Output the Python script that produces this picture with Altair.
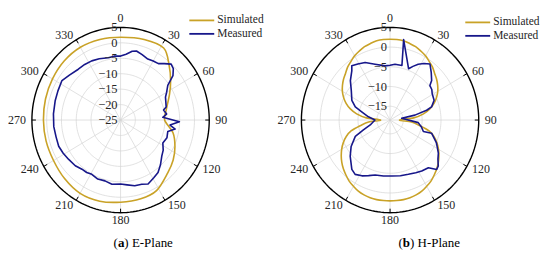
import math
import altair as alt
import pandas as pd

# ---------------- data ----------------
THETA_TICKS = [0, 30, 60, 90, 120, 150, 180, 210, 240, 270, 300, 330]
SERIES = ["Simulated", "Measured"]
COLORS = ["#C9A227", "#17178A"]

# E-plane (radial axis -25 .. 5 dB)
E_RMIN, E_RMAX = -25, 5
E_R_TICKS = [5, 0, -5, -10, -15, -20, -25]
E_SIM_ANG = [0, 17, 32, 43, 53, 63, 78, 90, 103, 115, 126, 137, 152, 165, 180,
             195, 210, 225, 240, 255, 270, 285, 300, 315, 330, 345]
E_SIM_DB = [1.8, 2.3, 2.5, -0.9, -3.8, -6.4, -9.2, -10.1, -6.8, -4.7, -3.0, -1.6, 0.9, 1.4, 1.6,
            2.2, 2.4, 1.8, 1.2, 1.1, 1.1, 1.3, 1.6, 2.0, 2.2, 2.0]
E_MEAS_ANG = [0, 5, 10, 13.5, 19, 25, 30, 35, 39, 43.4, 47, 51, 55, 60, 64, 69, 74.6, 77.4,
              82.9, 86.5, 91.6, 95.5, 99, 103, 110, 117.4, 124, 130, 137, 143.3, 149, 155.8,
              161, 167.3, 174, 180, 188, 195, 202, 209, 214, 219.4, 226, 234, 241, 247.9,
              256, 264.6, 275, 286, 294, 302.8, 310, 319, 326, 333, 340, 348.4, 354]
E_MEAS_DB = [-4.3, -3.6, -2.4, -2.0, -2.6, -3.2, -2.9, -2.7, -1.5, -0.1, -0.6, -2.2, -5.5, -7.0,
             -8.1, -8.6, -9.0, -10.1, -9.3, -10.7, -5.1, -8.2, -6.3, -8.6, -8.3, -8.9, -7.6,
             -6.8, -5.2, -3.8, -3.2, -2.3, -3.0, -3.2, -3.9, -4.3, -4.0, -4.6, -4.4, -4.9,
             -4.5, -4.4, -3.7, -3.3, -2.8, -2.4, -2.5, -2.3, -2.2, -2.0, -1.8, -1.4, -2.4,
             -3.2, -3.3, -3.5, -3.9, -4.4, -4.2]

# H-plane (radial axis -18.5 .. 5 dB)
H_RMIN, H_RMAX = -18.5, 5
H_R_TICKS = [5, 0, -5, -10, -15]
H_SIM_ANG = [0, 5, 10, 15, 20, 25, 30, 35, 40, 45, 50, 55, 60, 65, 70, 75, 80, 85, 90,
             95, 100, 105, 110, 115, 120, 125, 130, 135, 140, 145, 150, 155, 160, 165, 170, 175,
             180, 185, 190, 195, 200, 205, 210, 215, 220, 225, 230, 235, 240, 245, 250, 255,
             260, 265, 270, 275, 280, 285, 290, 295, 300, 305, 310, 315, 320, 325, 330, 335,
             340, 345, 350, 355]
H_SIM_DB = [2.0, 2.0, 1.9, 1.6, 1.3, 0.8, 0.3, -0.4, -1.0, -1.8, -2.4, -3.1, -3.9, -4.9, -6.1,
            -7.6, -9.5, -12.2, -16.0,
            -12.8, -10.6, -7.8, -6.1, -4.8, -3.7, -2.7, -1.8, -1.0, -0.3, 0.4, 0.9, 1.4, 1.7,
            1.9, 2.0, 2.0,
            2.0, 2.0, 2.0, 1.9, 1.7, 1.4, 0.9, 0.4, -0.3, -1.0, -1.8, -2.7, -3.7, -4.8, -6.1,
            -7.8, -10.6, -12.8,
            -16.0, -12.2, -9.5, -7.6, -6.1, -4.9, -3.9, -3.1, -2.4, -1.8, -1.0, -0.4, 0.3, 0.8,
            1.3, 1.6, 1.9, 2.0]
H_MEAS_ANG = [0, 5.3, 12.8, 10.0, 20.7, 24, 27.8, 32, 36.7, 42, 47.7, 50.4, 55, 59.2,
              66.8, 73.1, 75.6, 79.3, 82, 95, 102, 108.3, 106.9, 115.3, 123.2, 128, 132.4,
              135.4, 140, 147, 153, 160.6, 169, 178, 187, 195.8, 202, 207.8, 213.9, 219, 229,
              237, 245.8, 250.5, 256.7, 270, 278.2, 285.6, 289.9, 296.3, 306, 313.5, 321,
              323.6, 329, 335.6, 344.3, 354.5]
H_MEAS_DB = [-4.6, -4.3, -4.3, 2.2, -4.6, -3.6, -2.5, -1.6, -0.8, -2.2, -3.6, -4.8, -5.0,
             -5.5, -5.8, -7.0, -8.5, -11.8, -15.4, -11.0, -10.0, -9.2, -7.0, -4.9, -3.2, -2.4,
             -1.2, -0.9, -2.7, -3.1, -3.5, -3.9, -4.1, -4.3, -4.2, -4.0, -3.3, -2.5, -1.9,
             -2.4, -4.5, -6.2, -8.4, -11.0, -13.1, -14.5, -12.7, -10.7, -8.7, -7.2, -5.8,
             -4.0, -2.4, -1.4, -1.9, -2.5, -3.8, -4.7]

# ---------------- geometry (pixels) ----------------
RX, RY = 89.0, 93.0
TOP, PANEL_H = 8, 241
FONT = "Liberation Serif"
TXT = "#262626"


def panel(left, width, cx, cy, rmin, rmax, rticks, sim_ang, sim_db, meas_ang, meas_db,
          letter, name, leg_x, leg_y, cap_x):
    xs = alt.Scale(domain=[(left - cx) / RX, (left + width - cx) / RX], nice=False, zero=False)
    ys = alt.Scale(domain=[(cy - (TOP + PANEL_H)) / RY, (cy - TOP) / RY], nice=False, zero=False)
    span = rmax - rmin

    def XY():
        return dict(x=alt.X("x:Q", scale=xs, axis=None), y=alt.Y("y:Q", scale=ys, axis=None))

    # grid circles + outer circle
    rows = []
    levels = [(v - rmin) / span for v in rticks if rmin < v < rmax]
    for g, r in enumerate(levels):
        for k in range(181):
            a = 2 * math.pi * k / 180
            rows.append({"g": g, "i": k, "x": r * math.sin(a), "y": r * math.cos(a)})
    grid = alt.Chart(pd.DataFrame(rows)).mark_line(color="#d4d4d4", strokeWidth=0.7).encode(
        detail="g:N", order="i:Q", **XY())
    outer_rows = [{"i": k, "x": math.sin(2 * math.pi * k / 180), "y": math.cos(2 * math.pi * k / 180)}
                  for k in range(181)]
    outer = alt.Chart(pd.DataFrame(outer_rows)).mark_line(color="black", strokeWidth=1.4).encode(
        order="i:Q", **XY())

    # spokes and ticks
    th = pd.DataFrame({"t": THETA_TICKS})
    spokes = alt.Chart(th).transform_calculate(
        x="0", y="0",
        x2="sin(datum.t*PI/180)", y2="cos(datum.t*PI/180)"
    ).mark_rule(color="#d4d4d4", strokeWidth=0.7).encode(
        x=alt.X("x:Q", scale=xs, axis=None), y=alt.Y("y:Q", scale=ys, axis=None),
        x2="x2:Q", y2="y2:Q")
    ticks = alt.Chart(th).transform_calculate(
        x=f"(1-4/{RX})*sin(datum.t*PI/180)", y=f"(1-4/{RY})*cos(datum.t*PI/180)",
        x2="sin(datum.t*PI/180)", y2="cos(datum.t*PI/180)"
    ).mark_rule(color="black", strokeWidth=1).encode(
        x=alt.X("x:Q", scale=xs, axis=None), y=alt.Y("y:Q", scale=ys, axis=None),
        x2="x2:Q", y2="y2:Q")

    # angle labels
    gaps = [2.0 if t in (0, 180) else 6.0 for t in THETA_TICKS]
    lab = th.assign(
        x=[(1 + g / RX) * math.sin(math.radians(t)) for t, g in zip(THETA_TICKS, gaps)],
        y=[(1 + g / RY) * math.cos(math.radians(t)) for t, g in zip(THETA_TICKS, gaps)],
        s=[str(t) for t in THETA_TICKS])
    layers_lab = []
    for sel, al, bl in [(lambda t: t == 0, "center", "bottom"),
                        (lambda t: t == 180, "center", "top"),
                        (lambda t: 0 < t < 180, "left", "middle"),
                        (lambda t: t > 180, "right", "middle")]:
        sub = lab[[sel(t) for t in lab["t"]]]
        layers_lab.append(alt.Chart(sub).mark_text(
            align=al, baseline=bl, font=FONT, fontSize=12, color=TXT).encode(text="s:N", **XY()))

    # radial labels
    rl = pd.DataFrame({"v": rticks})
    rlab = alt.Chart(rl).transform_calculate(
        x="0", y=f"(datum.v - ({rmin}))/{span}", s="format(datum.v, 'd')"
    ).mark_text(align="right", baseline="middle", dx=-3, font=FONT, fontSize=12.5, color=TXT).encode(
        text="s:N", **XY())

    # series
    def series(ang, db, color, interp):
        df = pd.DataFrame({"i": range(len(ang)), "ang": ang, "db": db})
        return alt.Chart(df).transform_calculate(
            r=f"(datum.db - ({rmin}))/{span}"
        ).transform_calculate(
            x="datum.r*sin(datum.ang*PI/180)", y="datum.r*cos(datum.ang*PI/180)"
        ).mark_line(color=color, strokeWidth=1.6, interpolate=interp,
                    strokeJoin="round").encode(order="i:Q", **XY())

    sim = series(sim_ang, sim_db, COLORS[0], "cardinal-closed")
    meas = series(meas_ang, meas_db, COLORS[1], "linear-closed")

    # legend
    one = pd.DataFrame({"a": [0]})
    leg = []
    for k, (nm, col) in enumerate(zip(SERIES, COLORS)):
        yy = leg_y[k] - TOP
        leg.append(alt.Chart(one).mark_rule(color=col, strokeWidth=1.8).encode(
            x=alt.value(leg_x - left), x2=alt.value(leg_x + 25 - left), y=alt.value(yy)))
        leg.append(alt.Chart(one).mark_text(align="left", baseline="middle", font=FONT,
                                            fontSize=11.5, color=TXT).encode(
            x=alt.value(leg_x + 28 - left), y=alt.value(yy), text=alt.value(nm)))

    # caption "(a) E-Plane"
    cy_pix = 243 - TOP
    cx_pix = cap_x - left
    fs = 13
    cap = [
        alt.Chart(one).mark_text(align="left", baseline="middle", font=FONT, fontSize=fs,
                                 color="black").encode(
            x=alt.value(cx_pix), y=alt.value(cy_pix), text=alt.value("(")),
        alt.Chart(one).mark_text(align="left", baseline="middle", font=FONT, fontSize=fs,
                                 fontWeight="bold", color="black").encode(
            x=alt.value(cx_pix + 4.3), y=alt.value(cy_pix), text=alt.value(letter)),
        alt.Chart(one).mark_text(align="left", baseline="middle", font=FONT, fontSize=fs,
                                 color="black").encode(
            x=alt.value(cx_pix + 4.3 + (7.2 if letter == "b" else 6.5)), y=alt.value(cy_pix),
            text=alt.value(") " + name)),
    ]

    return alt.layer(grid, spokes, outer, ticks, sim, meas, rlab, *layers_lab, *leg, *cap).properties(
        width=width, height=PANEL_H)


left_panel = panel(8, 267, 119, 120, E_RMIN, E_RMAX, E_R_TICKS, E_SIM_ANG, E_SIM_DB,
                   E_MEAS_ANG, E_MEAS_DB, "a", "E-Plane", 188, [20, 33.5], 112)
right_panel = panel(275, 267, 389.5, 120, H_RMIN, H_RMAX, H_R_TICKS, H_SIM_ANG, H_SIM_DB,
                    H_MEAS_ANG, H_MEAS_DB, "b", "H-Plane", 465, [22, 35.5], 398)

chart = alt.hconcat(left_panel, right_panel, spacing=0).properties(padding=0).configure_view(
    stroke=None)

chart.save("out.html", embed_options={"renderer": "svg", "actions": False})
